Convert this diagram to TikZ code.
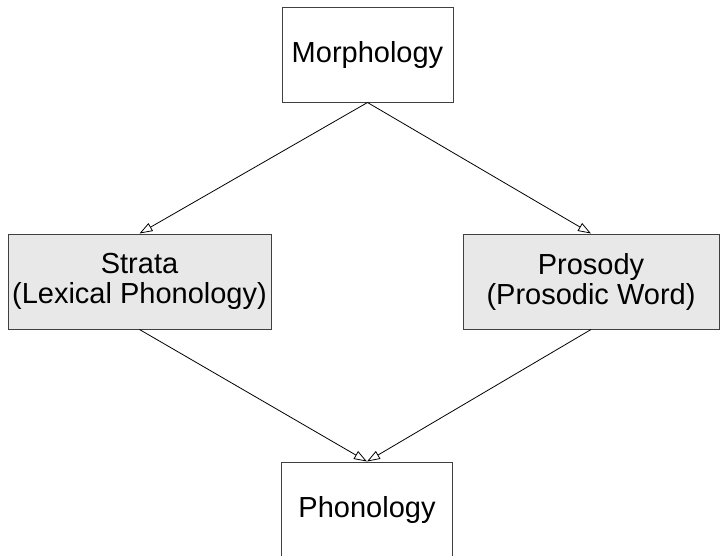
\documentclass[tikz,border=0pt]{standalone}
\usepackage{fontspec}
\setmainfont{Liberation Sans}
\usetikzlibrary{arrows.meta}
\begin{document}
\begin{tikzpicture}[x=1pt,y=-1pt,
  box/.style={draw=black!75, line width=1pt, inner sep=0pt, align=center,
    font=\fontsize{29}{30}\selectfont, minimum height=95pt},
  shaded/.style={box, fill=black!9},
  conn/.style={line width=0.8pt, -{Triangle[open, length=13pt, width=9pt]}}]
\useasboundingbox (0,0) rectangle (720,555);
\node[box, minimum width=171pt] (morph) at (367.5,54.5) {Morphology};
\node[shaded, minimum width=263pt] (strata) at (139.5,281.5) {Strata\\(Lexical Phonology)};
\node[shaded, minimum width=256pt] (prosody) at (591,281.5) {Prosody\\(Prosodic Word)};
\node[box, minimum width=171pt] (phon) at (367,509.5) {Phonology};
\draw[conn] (morph.south) -- (strata.north);
\draw[conn] (morph.south) -- (prosody.north);
\draw[conn] (strata.south) -- (phon.north);
\draw[conn] (prosody.south) -- (phon.north);
\end{tikzpicture}
\end{document}
